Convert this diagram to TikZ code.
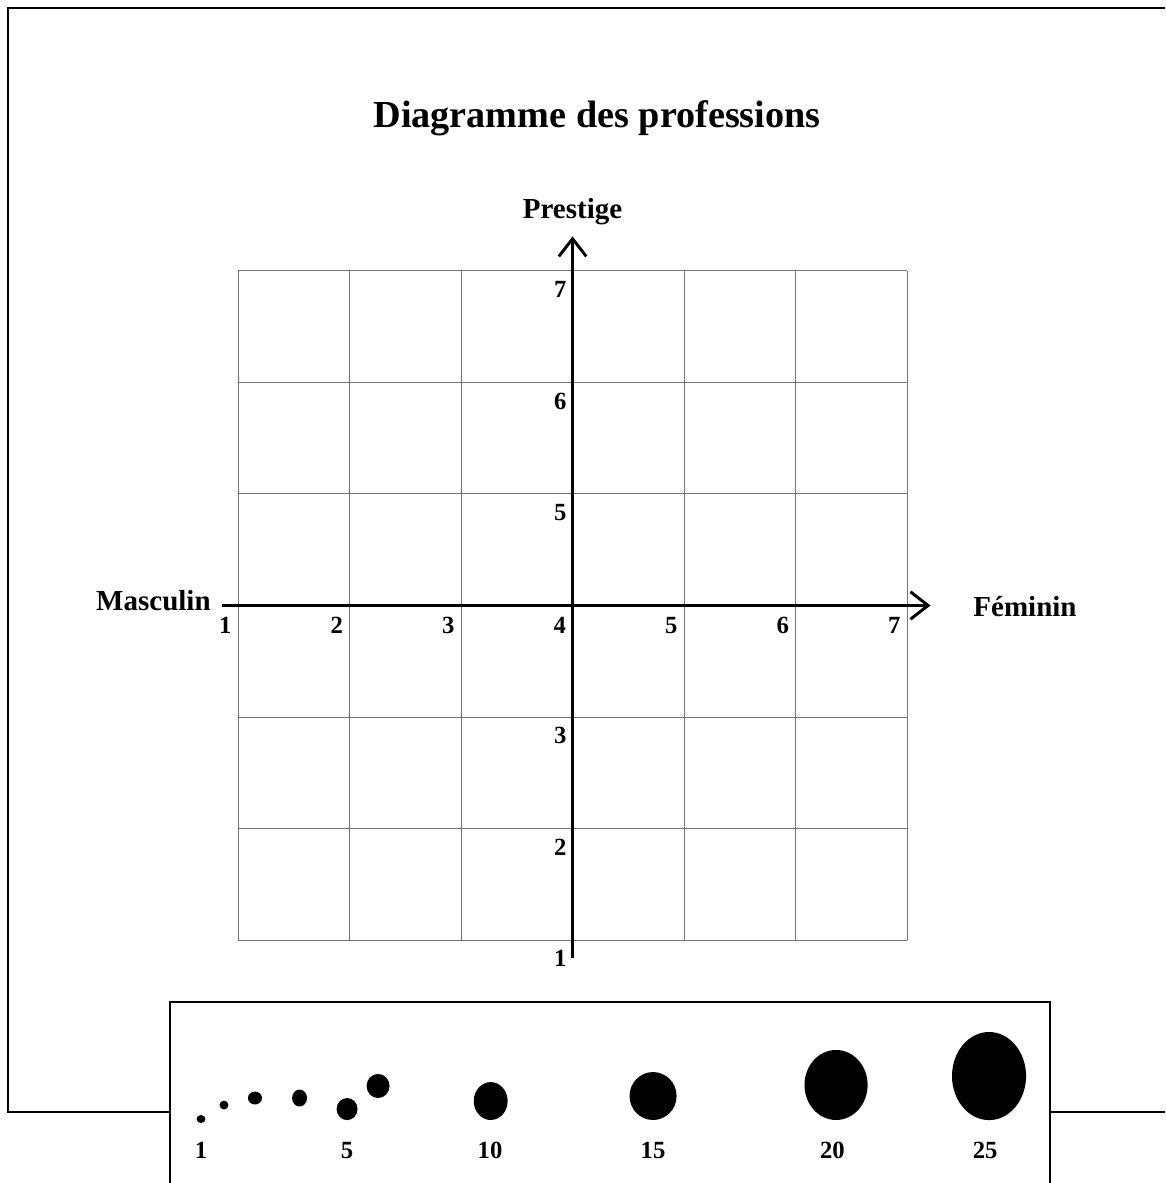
\documentclass[tikz,border=0pt]{standalone}
\usepackage{fontspec}
\setmainfont{Liberation Serif}
\usetikzlibrary{arrows.meta}

\begin{document}
\begin{tikzpicture}[x=2cm, y=2cm,
  frame/.style = {line width=1pt},
  axis/.style = {line width=1.5pt, -{Straight Barb[length=9pt, width=14pt]}},
  ticklabel/.style = {inner sep=0pt, anchor=north east, font=\fontsize{12.6}{14}\selectfont\bfseries},
  axislabel/.style = {inner sep=0pt, font=\fontsize{14.8}{17}\selectfont\bfseries},
  leglabel/.style = {inner sep=0pt, anchor=base, font=\fontsize{12.6}{14}\selectfont\bfseries}]
\useasboundingbox (-2.1345,-2.179) rectangle (8.314,8.430);
\clip (-2.1345,-2.179) rectangle (8.314,8.430);

% frame and legend box
\draw[frame] (-0.61,-1.543) -- (-2.063,-1.543) -- (-2.063,8.359) -- (8.5,8.359);
\draw[frame] (7.283,-1.543) -- (8.5,-1.543);
\draw[frame] (-0.61,-2.5) -- (-0.61,-0.556) -- (7.283,-0.556) -- (7.283,-2.5);

\node[anchor=base, inner sep=0pt, font=\fontsize{19.5}{22}\selectfont\bfseries] (title) at (3.22,7.283) {Diagramme des professions};

% grid
\draw[step=1, black!55, line width=0.5pt] (0,0) grid (6,6);

% axes
\coordinate (xmin) at (-0.145,3);
\coordinate (xmax) at (6.21,3);
\coordinate (ymin) at (3,-0.161);
\coordinate (ymax) at (3,6.31);
\draw[axis] (xmin) -- (xmax);
\draw[axis] (ymin) -- (ymax);

\node[axislabel, anchor=base east] (masculin) at (-0.242,2.951) {Masculin};
\node[axislabel, anchor=base west] (feminin) at (6.592,2.897) {Féminin};
\node[axislabel, anchor=base] (prestige) at (3,6.466) {Prestige};

\foreach \k in {1,...,7}{
  \node[ticklabel] (h\k) at (\k-1-0.055,2.9) {\k};
}
\foreach \k in {1,2,3,5,6,7}{
  \node[ticklabel] (v\k) at (2.95,\k-1-0.09) {\k};
}

% legend
\foreach \x/\y/\rx/\ry in {-0.332/-1.605/0.040/0.036, -0.126/-1.480/0.040/0.040,
  0.152/-1.417/0.063/0.058, 0.552/-1.417/0.067/0.076, 0.978/-1.516/0.094/0.099,
  1.256/-1.309/0.103/0.108, 2.266/-1.444/0.152/0.170, 3.722/-1.399/0.211/0.215,
  5.363/-1.300/0.283/0.314, 6.735/-1.220/0.332/0.395}{
  \fill (\x,\y) ellipse [x radius=\rx, y radius=\ry];
}
\foreach \x/\n in {-0.332/1, 0.978/5, 2.26/10, 3.722/15, 5.33/20, 6.70/25}{
  \node[leglabel] (leg\n) at (\x,-1.955) {\n};
}
\end{tikzpicture}
\end{document}
